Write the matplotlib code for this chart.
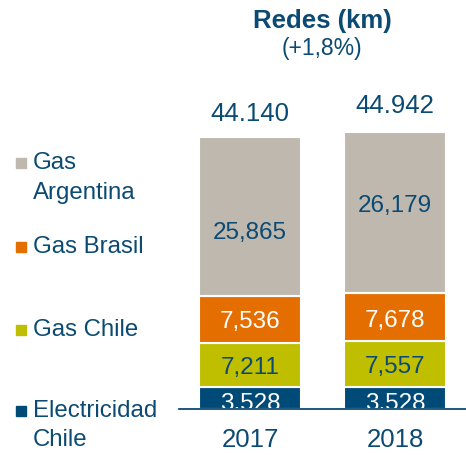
import matplotlib.pyplot as plt
from matplotlib.patches import Rectangle
import numpy as np

plt.rcParams['font.family'] = ['Liberation Sans', 'DejaVu Sans']

years = ["2017", "2018"]
series = ["Electricidad\nChile", "Gas Chile", "Gas Brasil", "Gas\nArgentina"]
values = {
    "Electricidad\nChile": [3528, 3528],
    "Gas Chile": [7211, 7557],
    "Gas Brasil": [7536, 7678],
    "Gas\nArgentina": [25865, 26179],
}
value_labels = {
    "Electricidad\nChile": ["3,528", "3,528"],
    "Gas Chile": ["7,211", "7,557"],
    "Gas Brasil": ["7,536", "7,678"],
    "Gas\nArgentina": ["25,865", "26,179"],
}
total_labels = ["44.140", "44.942"]
title = "Redes (km)"
subtitle = "(+1,8%)"

colors = {
    "Electricidad\nChile": "#004a78",
    "Gas Chile": "#bfbf00",
    "Gas Brasil": "#e46f00",
    "Gas\nArgentina": "#bfb8ae",
}
text_colors = {
    "Electricidad\nChile": "white",
    "Gas Chile": "#0b4a72",
    "Gas Brasil": "white",
    "Gas\nArgentina": "#0b4a72",
}
# small vertical nudges (points) of the in-bar labels, as in the original
label_nudge = {
    "Electricidad\nChile": [-4, -4],
    "Gas Chile": [-2, -2],
    "Gas Brasil": [-2, -3],
    "Gas\nArgentina": [-12, 5],
}
navy = "#0b4a72"

W, H = 466, 455
fig = plt.figure(figsize=(W / 100, H / 100), dpi=100)
ax = fig.add_axes([179 / W, 46 / H, 287 / W, 308 / H])

x = np.arange(len(years))
bottom = np.zeros(len(years))
for s in series:
    v = np.array(values[s], dtype=float)
    ax.bar(x, v, 0.70, bottom=bottom, color=colors[s], edgecolor="white", linewidth=1.5, zorder=2)
    for i in range(len(years)):
        ax.annotate(value_labels[s][i], (x[i], bottom[i] + v[i] / 2), xytext=(0, label_nudge[s][i]),
                    textcoords="offset points", ha="center", va="center", fontsize=17.5,
                    color=text_colors[s], zorder=3)
    bottom += v

for i in range(len(years)):
    ax.annotate(total_labels[i], (x[i], bottom[i]), xytext=(0, 8 + 2 * i), textcoords="offset points",
                ha="center", va="bottom", fontsize=18.5, color=navy)

ax.set_xlim(-0.49, 1.49)
ax.set_ylim(0, 50000)
ax.set_xticks(x)
ax.set_xticklabels(years, fontsize=18.5, color=navy)
ax.tick_params(axis="x", length=0, pad=14)
ax.set_yticks([])
for sp in ["top", "right", "left"]:
    ax.spines[sp].set_visible(False)
ax.spines["bottom"].set_color(navy)
ax.spines["bottom"].set_linewidth(1.3)
ax.spines["bottom"].set_zorder(4)

fig.text(322 / W, 1 - 21 / H, title, ha="center", va="center", fontsize=18.5, fontweight="bold", color=navy)
fig.text(322 / W, 1 - 48 / H, subtitle, ha="center", va="center", fontsize=16.5, color=navy)

# legend on the left
legend_y = [411, 330, 247, 163]
for s, yc in zip(series, legend_y):
    fig.add_artist(Rectangle((16 / W, 1 - (yc + 5) / H), 10 / W, 10 / H, transform=fig.transFigure,
                             color=colors[s]))
    for k, line in enumerate(s.split("\n")):
        fig.text(33 / W, 1 - (yc + 29.5 * k) / H, line, ha="left", va="center", fontsize=17.3, color=navy)

fig.savefig("out.png", dpi=100)
